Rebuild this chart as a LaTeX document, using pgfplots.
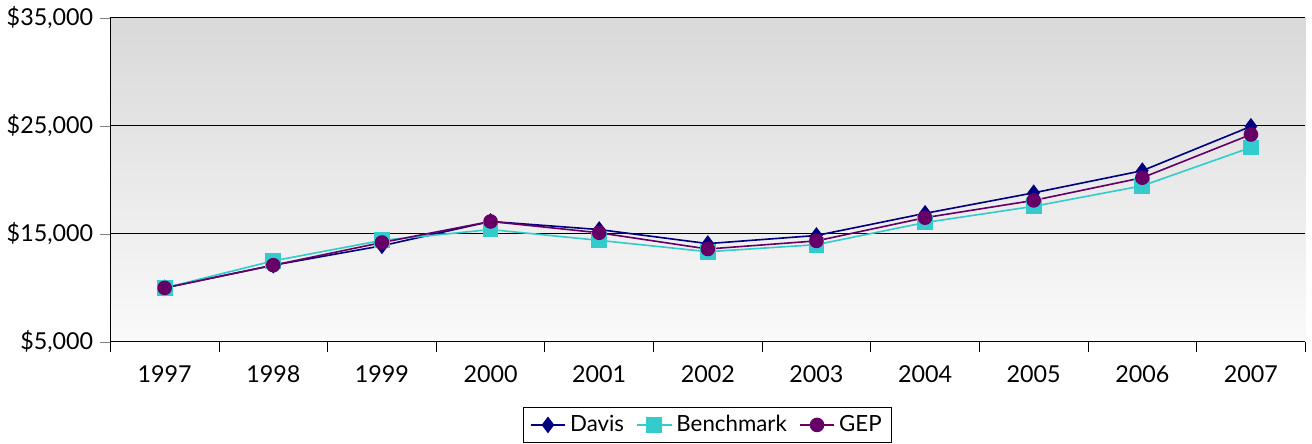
\documentclass[border=0pt]{standalone}
\usepackage{pgfplots}
\pgfplotsset{compat=1.18}
\usepackage{fontspec}
\setmainfont{Lato}
\begin{document}
\begin{tikzpicture}
\begin{axis}[
  scale only axis, width=590pt, height=160pt,
  xmin=-0.5, xmax=10.5, ymin=5000, ymax=35000,
  scaled y ticks=false,
  xtick={-0.5,0.5,...,10.5}, xticklabels={},
  x tick style={black, thin}, xtick align=outside, 
  extra x ticks={0,...,10},
  extra x tick labels={1997,1998,1999,2000,2001,2002,2003,2004,2005,2006,2007},
  extra x tick style={major tick length=0pt, xticklabel style={yshift=-8pt}},
  ytick={5000,15000,25000,35000},
  yticklabels={{\$5,000},{\$15,000},{\$25,000},{\$35,000}},
  ytick align=outside, major tick length=5pt,
  ymajorgrids, grid style={black, thin},
  axis x line*=bottom, axis y line*=left,
  axis background/.style={top color=black!15, bottom color=black!2},
  tick label style={font=\fontsize{11.5}{13}\selectfont},
  legend style={at={(0.5,-0.2)}, anchor=north, legend columns=3, draw=black,
    font=\fontsize{11}{13}\selectfont, /tikz/every even column/.append style={column sep=4pt}},
]
\addplot[color={rgb,255:red,0;green,0;blue,128}, thick, mark=diamond*, mark size=3.5pt] coordinates {
(0,10000)(1,12100)(2,13900)(3,16150)(4,15400)(5,14100)(6,14850)(7,16900)(8,18800)(9,20850)(10,24950)};
\addlegendentry{Davis}
\addplot[color={rgb,255:red,51;green,204;blue,204}, thick, mark=square*, mark size=3.5pt] coordinates {
(0,10000)(1,12500)(2,14400)(3,15400)(4,14400)(5,13350)(6,14000)(7,16050)(8,17550)(9,19450)(10,23000)};
\addlegendentry{Benchmark}
\addplot[color={rgb,255:red,102;green,0;blue,102}, thick, mark=*, mark size=3.2pt] coordinates {
(0,10000)(1,12100)(2,14200)(3,16150)(4,15100)(5,13600)(6,14350)(7,16500)(8,18100)(9,20200)(10,24200)};
\addlegendentry{GEP}
\end{axis}
\end{tikzpicture}
\end{document}
